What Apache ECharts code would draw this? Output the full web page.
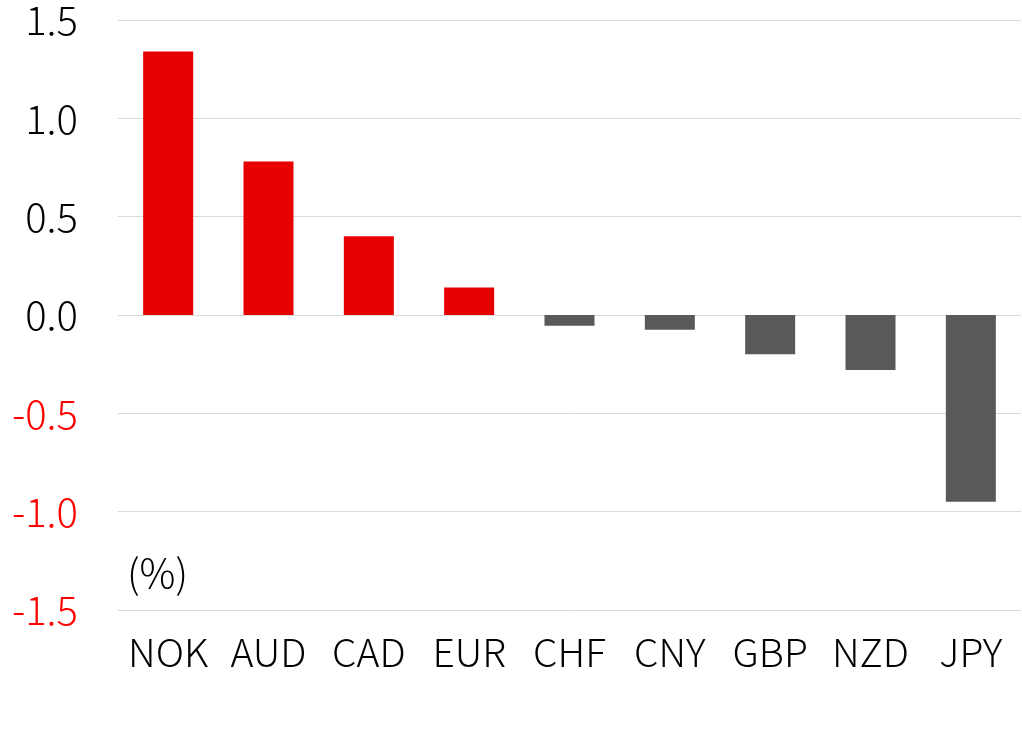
<!DOCTYPE html>
<html><head><meta charset="utf-8">
<script src="https://cdn.jsdelivr.net/npm/echarts@6/dist/echarts.min.js"></script>
<style>html,body{margin:0;padding:0;background:#fff;}#c{width:1022px;height:746px;}</style>
</head><body><div id="c"></div>
<script>
const categories = ['NOK','AUD','CAD','EUR','CHF','CNY','GBP','NZD','JPY'];
const values = [1.34, 0.78, 0.40, 0.14, -0.055, -0.075, -0.20, -0.28, -0.95];
const unitLabel = '(%)';
const FONT = '"Noto Sans CJK KR", "Noto Sans", sans-serif';
const chart = echarts.init(document.getElementById('c'), null, {renderer:'canvas'});
chart.setOption({
  animation: false,
  grid: {left: 118, right: 1, top: 20, bottom: 136, containLabel: false},
  xAxis: {
    type: 'category', data: categories,
    axisLine: {show: false}, axisTick: {show: false},
    axisLabel: {interval: 0, fontFamily: FONT, fontWeight: 300, fontSize: 39, color: '#000', margin: 23}
  },
  yAxis: {
    type: 'value', min: -1.5, max: 1.5, interval: 0.5,
    axisLine: {show: false}, axisTick: {show: false},
    splitLine: {lineStyle: {color: '#d9d9d9', width: 1}},
    axisLabel: {
      fontFamily: FONT, fontWeight: 300, fontSize: 40, margin: 40,
      formatter: v => v.toFixed(1),
      color: v => (parseFloat(v) < 0 ? '#ff0000' : '#000')
    }
  },
  graphic: [{
    type: 'text', left: 127, top: 553,
    style: {text: unitLabel, font: '300 40px ' + FONT, fill: '#000'}
  }],
  series: [{
    type: 'bar', data: values, barWidth: 50,
    itemStyle: {color: p => p.value >= 0 ? '#e60000' : '#595959'}
  }]
});
</script></body></html>
